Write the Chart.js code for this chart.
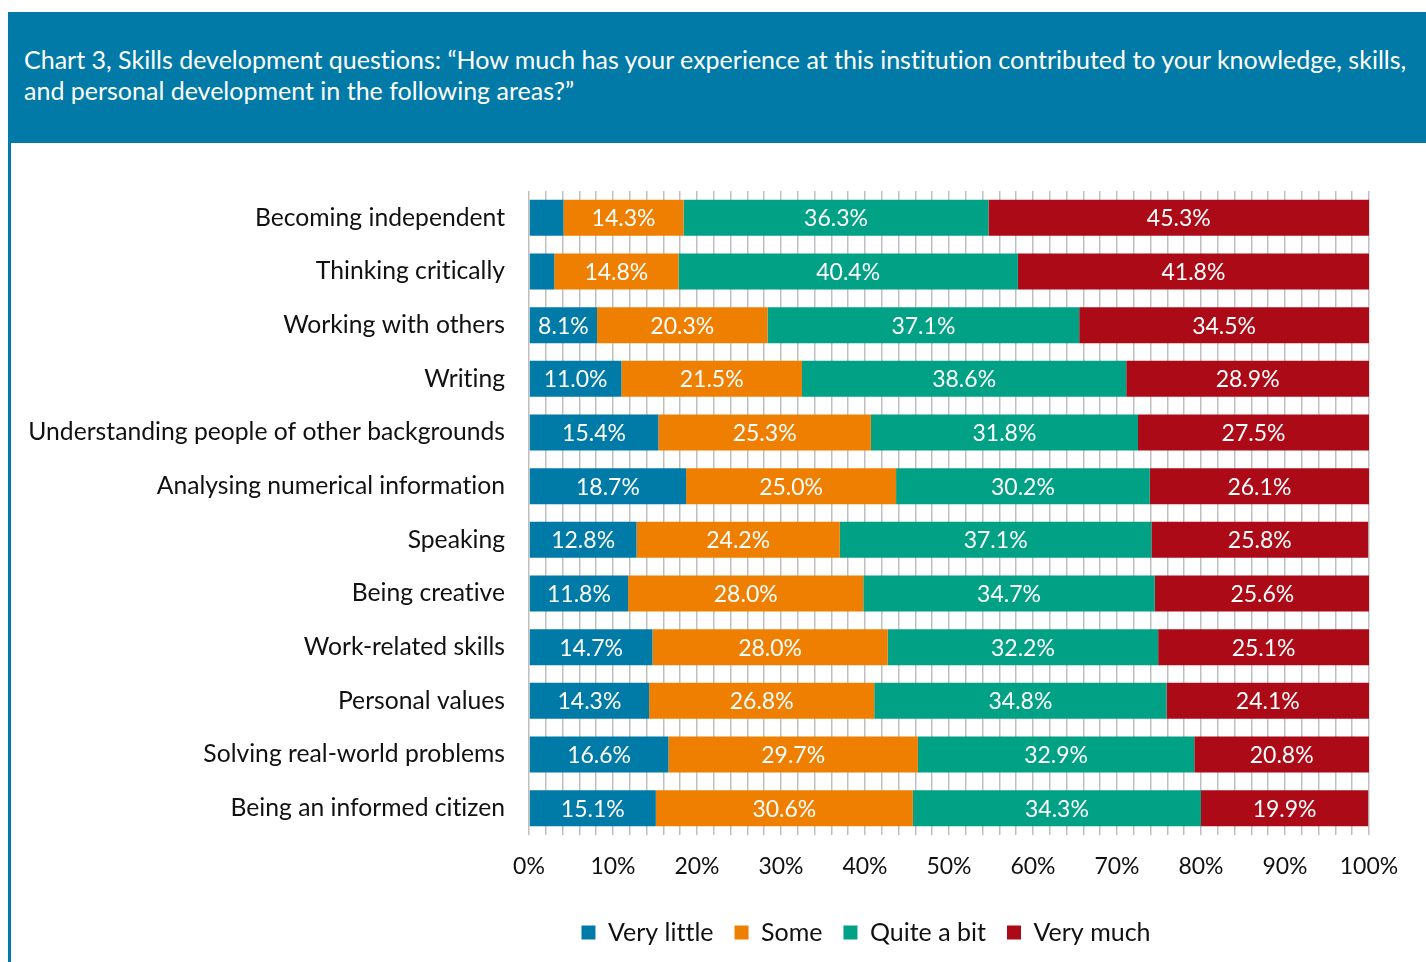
<!DOCTYPE html>
<html><head><meta charset="utf-8">
<script src="https://cdn.jsdelivr.net/npm/chart.js@4.4.1/dist/chart.umd.min.js"></script>
<style>
html,body{margin:0;padding:0;background:#fff;width:1426px;height:962px;overflow:hidden;font-family:Lato,sans-serif;font-variant-ligatures:none;}
#hdr{position:absolute;left:8px;top:12px;width:1418px;height:131px;background:#017AA7;}
#ttl{position:absolute;left:16px;top:32px;color:#fff;font-size:25px;line-height:31px;white-space:nowrap;font-family:Lato,sans-serif;font-variant-ligatures:none;}
#lb{position:absolute;left:8px;top:143px;width:3px;height:819px;background:#017AA7;}
#wrap{position:absolute;left:0;top:0;width:1426px;height:962px;}
canvas{font-variant-ligatures:none;}
</style>
</head><body>
<div id="hdr"><div id="ttl">Chart 3, Skills development questions: “How much has your experience at this institution contributed to your knowledge, skills,<br>and personal development in the following areas?”</div></div>
<div id="lb"></div>
<div id="wrap"><canvas id="c" width="1426" height="962"></canvas></div>
<script>
const categories = [
  'Becoming independent',
  'Thinking critically',
  'Working with others',
  'Writing',
  'Understanding people of other backgrounds',
  'Analysing numerical information',
  'Speaking',
  'Being creative',
  'Work-related skills',
  'Personal values',
  'Solving real-world problems',
  'Being an informed citizen'
];
const seriesNames = ['Very little', 'Some', 'Quite a bit', 'Very much'];
const veryLittle = [4.1, 3.0, 8.1, 11.0, 15.4, 18.7, 12.8, 11.8, 14.7, 14.3, 16.6, 15.1];
const some       = [14.3, 14.8, 20.3, 21.5, 25.3, 25.0, 24.2, 28.0, 28.0, 26.8, 29.7, 30.6];
const quiteABit  = [36.3, 40.4, 37.1, 38.6, 31.8, 30.2, 37.1, 34.7, 32.2, 34.8, 32.9, 34.3];
const veryMuch   = [45.3, 41.8, 34.5, 28.9, 27.5, 26.1, 25.8, 25.6, 25.1, 24.1, 20.8, 19.9];
const xTickLabels = [0, 10, 20, 30, 40, 50, 60, 70, 80, 90, 100];

const colors = ['#007AA6', '#EE7F00', '#00A185', '#AD0A18'];
const seriesData = [veryLittle, some, quiteABit, veryMuch];

const FONT = 'Lato';
const padLeft = 12, padRight = 57;

const valueLabels = {
  id: 'valueLabels',
  afterDatasetsDraw(chart) {
    const ctx = chart.ctx;
    ctx.save();
    ctx.font = '23px ' + FONT;
    ctx.fillStyle = '#ffffff';
    ctx.textAlign = 'center';
    ctx.textBaseline = 'middle';
    chart.data.datasets.forEach((ds, di) => {
      const meta = chart.getDatasetMeta(di);
      meta.data.forEach((bar, i) => {
        const v = ds.data[i];
        if (v < 5) return;
        ctx.fillText(v.toFixed(1) + '%', (bar.x + bar.base) / 2, bar.y + 1);
      });
    });
    ctx.restore();
  }
};

// shift the legend box so that it is centred like the reference; no ligatures
const legendShift = {
  id: 'legendShift',
  beforeDraw(chart) {
    if ('textRendering' in chart.ctx) { chart.ctx.textRendering = 'optimizeSpeed'; }
    if (chart.legend) { chart.legend.left = 363; }
  }
};

new Chart(document.getElementById('c'), {
  type: 'bar',
  data: {
    labels: categories,
    datasets: seriesNames.map((n, i) => ({
      label: n,
      data: seriesData[i],
      backgroundColor: colors[i],
      borderWidth: 0,
      barPercentage: 0.67,
      categoryPercentage: 1.0
    }))
  },
  options: {
    indexAxis: 'y',
    responsive: false,
    animation: false,
    devicePixelRatio: 1,
    layout: { padding: { top: 191, left: padLeft, right: padRight, bottom: 7 } },
    plugins: {
      tooltip: { enabled: false },
      legend: {
        position: 'bottom',
        labels: {
          boxWidth: 14, boxHeight: 14, padding: 21,
          color: '#111', font: { family: FONT, size: 25 }
        }
      }
    },
    scales: {
      x: {
        stacked: true, min: 0, max: 100,
        ticks: {
          stepSize: 2, autoSkip: false, maxRotation: 0, padding: 18,
          color: '#111', font: { family: FONT, size: 23 },
          callback: (v) => xTickLabels.includes(Math.round(v)) ? Math.round(v) + '%' : ''
        },
        grid: { color: '#bfbfbf', lineWidth: 1.5, drawTicks: false },
        border: { display: false },
        afterFit: (s) => { s.height = 64; }
      },
      y: {
        stacked: true,
        ticks: { padding: 24, color: '#111', font: { family: FONT, size: 24.7 } },
        grid: { display: false, drawTicks: false },
        border: { display: false },
        afterFit: (s) => { s.width = 529 - padLeft; }
      }
    }
  },
  plugins: [valueLabels, legendShift]
});
</script>
</body></html>
